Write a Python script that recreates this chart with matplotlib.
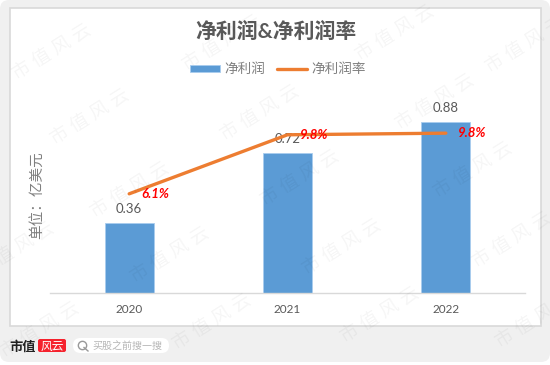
import matplotlib
matplotlib.use("Agg")
import matplotlib.pyplot as plt
from matplotlib.patches import FancyBboxPatch, Rectangle

plt.rcParams['font.family'] = ['Lato', 'Noto Sans CJK SC', 'DejaVu Sans']

years = ['2020', '2021', '2022']
profit = [0.36, 0.72, 0.88]
margin = [6.1, 9.75, 9.85]
margin_labels = ['6.1%', '9.8%', '9.8%']

W, H = 550, 365
fig = plt.figure(figsize=(W / 100, H / 100), dpi=100)

### page background, everything here is in pixels from the top left
bg = fig.add_axes([0, 0, 1, 1], zorder=0)
bg.set_xlim(0, W)
bg.set_ylim(H, 0)
bg.axis('off')
bg.add_patch(FancyBboxPatch((0, 0), W, 362, boxstyle='round,pad=0,rounding_size=9',
                            fc='#f0f0f0', ec='none', clip_on=False))
bg.add_patch(Rectangle((9.5, 7.5), 531.5, 318.5, fc='white', ec='#d9d9d9', lw=1.2))

### chart
ax = fig.add_axes([50 / W, 1 - 292.5 / H, 475 / W, 192.5 / H], zorder=2)
ax.patch.set_alpha(0)
xs = range(len(years))
bars = ax.bar(xs, profit, width=0.31, color='#5b9bd5', edgecolor='#a9cdee', lw=0.6, label='净利润')
ax.set_xlim(-0.5, 2.5)
ax.set_ylim(0, 0.995)
ax.set_xticks(list(xs), years, fontsize=8.5, color='#595959')
ax.tick_params(axis='x', length=0, pad=8)
ax.set_yticks([])
for s in ['top', 'left', 'right']:
    ax.spines[s].set_visible(False)
ax.spines['bottom'].set_color('#d9d9d9')
ax.spines['bottom'].set_linewidth(1.0)
for x, v in zip(xs, profit):
    ax.annotate(f'{v:.2f}', (x, v), xytext=(0, 6), textcoords='offset points',
                ha='center', va='bottom', fontsize=9.5, color='#595959')

ax2 = ax.twinx()
ax2.patch.set_alpha(0)
line, = ax2.plot(list(xs), margin, color='#ed7d31', lw=2.4, solid_capstyle='round', label='净利润率')
ax2.set_ylim(0, 11.9)
ax2.set_yticks([])
for s in ['top', 'left', 'right', 'bottom']:
    ax2.spines[s].set_visible(False)
for x, v, t in zip(xs, margin, margin_labels):
    ax2.annotate(t, (x, v), xytext=(9, 0), textcoords='offset points', ha='left', va='center',
                 fontsize=9.5, color='#ff0000', fontweight='bold', fontstyle='italic')

fig.text(276 / W, 1 - 32 / H, '净利润&净利润率', ha='center', va='center', fontsize=15,
         fontweight='bold', color='#595959', zorder=3)
fig.text(37 / W, 1 - 195 / H, '单位：亿美元', rotation=90, ha='center', va='center',
         fontsize=10.5, color='#808080', zorder=3)
fig.legend(handles=[bars, line], loc='center', bbox_to_anchor=(278 / W, 1 - 69 / H), ncol=2, frameon=False,
           fontsize=9.8, labelcolor='#808080', handlelength=2.2, handleheight=0.45,
           handletextpad=0.3, columnspacing=0.9)

### footer logo and search box
top = fig.add_axes([0, 0, 1, 1], zorder=5)
top.set_xlim(0, W)
top.set_ylim(H, 0)
top.axis('off')
top.text(23, 346, '市值', ha='center', va='center', fontsize=9.5, fontweight='bold', color='#222222')
top.add_patch(FancyBboxPatch((39, 340), 26, 11, boxstyle='round,pad=1,rounding_size=2', fc='#f5222d', ec='none'))
top.text(52, 346, '风云', ha='center', va='center', fontsize=8.5, color='white', fontstyle='italic')
top.add_patch(FancyBboxPatch((73, 338), 96, 15, boxstyle='round,pad=0,rounding_size=7.5', fc='white', ec='none'))
top.plot([82], [345], marker='o', ms=6, mfc='none', mec='#999999', mew=1.0)
top.plot([84, 88], [347.5, 351], color='#999999', lw=1.0)
top.text(92, 346, '买股之前搜一搜', ha='left', va='center', fontsize=7.2, color='#b5b5b5')

### watermark
marks = [(52, 52), (90, 117), (130, 190), (170, 255), (212, 322),
         (222, 43), (260, 113), (300, 178), (342, 247), (380, 315),
         (395, 33), (435, 102), (473, 170), (512, 240), (535, 320),
         (15, 250), (40, 330), (525, 45)]
for mx, my in marks:
    top.text(mx, my, '市 值 风 云', rotation=32, ha='center', va='center', fontsize=13.5,
             color='black', alpha=0.04, rotation_mode='anchor', clip_on=True)

fig.savefig('out.png', dpi=100)
